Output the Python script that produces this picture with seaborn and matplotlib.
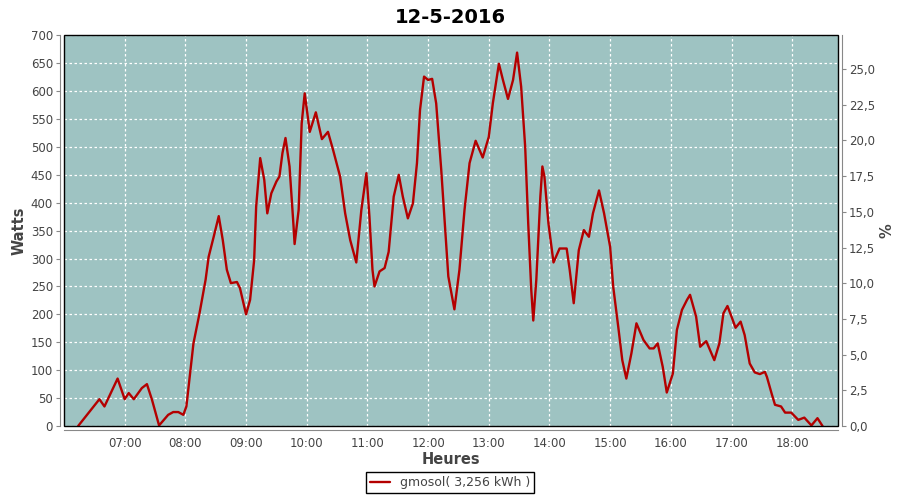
import numpy as np
import pandas as pd
import matplotlib
matplotlib.use("Agg")
import matplotlib.pyplot as plt
import seaborn as sns
from matplotlib.patches import Rectangle

# readings (time of day, watts)
times = ["06:14", "06:35", "06:40", "06:53", "07:00", "07:04", "07:09", "07:17", "07:22", "07:27",
         "07:34", "07:43", "07:48", "07:53", "07:58", "08:01", "08:08", "08:14", "08:20", "08:23",
         "08:28", "08:33", "08:37", "08:41", "08:45", "08:51", "08:54", "09:00", "09:04", "09:08",
         "09:10", "09:14", "09:18", "09:21", "09:25", "09:30", "09:33", "09:36", "09:39", "09:43",
         "09:47", "09:48", "09:52", "09:55", "09:58", "10:03", "10:09", "10:15", "10:21", "10:26",
         "10:33", "10:38", "10:43", "10:49", "10:54", "10:59", "11:02", "11:05", "11:07", "11:12",
         "11:17", "11:21", "11:26", "11:31", "11:35", "11:40", "11:45", "11:49", "11:52", "11:56",
         "12:00", "12:04", "12:08", "12:13", "12:17", "12:20", "12:26", "12:31", "12:36", "12:41",
         "12:47", "12:54", "13:00", "13:04", "13:10", "13:14", "13:19", "13:24", "13:28", "13:32",
         "13:36", "13:39", "13:42", "13:44", "13:47", "13:51", "13:53", "13:55", "13:59", "14:04",
         "14:10", "14:17", "14:20", "14:24", "14:29", "14:34", "14:39", "14:43", "14:49", "14:54",
         "15:00", "15:03", "15:08", "15:12", "15:16", "15:21", "15:26", "15:33", "15:39", "15:43",
         "15:47", "15:52", "15:56", "16:02", "16:06", "16:11", "16:16", "16:19", "16:25", "16:29",
         "16:35", "16:43", "16:48", "16:52", "16:56", "17:00", "17:04", "17:09", "17:13", "17:18",
         "17:23", "17:28", "17:33", "17:35", "17:40", "17:43", "17:49", "17:53", "17:59", "18:06",
         "18:12", "18:19", "18:25", "18:30"]
watts = [0, 48, 35, 85, 48, 59, 48, 68, 75, 47,
         1, 20, 25, 25, 20, 35, 148, 202, 262, 303,
         339, 376, 333, 280, 256, 258, 247, 200, 226, 297,
         393, 480, 441, 381, 417, 438, 447, 489, 516, 465,
         357, 326, 387, 542, 596, 527, 562, 514, 527, 495,
         447, 381, 333, 293, 387, 453, 375, 280, 250, 277,
         283, 312, 411, 450, 411, 372, 399, 471, 566, 626,
         620, 622, 578, 459, 351, 268, 209, 280, 387, 471,
         511, 481, 518, 578, 649, 620, 586, 620, 669, 608,
         500, 363, 244, 189, 262, 411, 465, 447, 363, 293,
         318, 318, 280, 220, 315, 351, 339, 381, 422, 381,
         321, 250, 178, 118, 85, 130, 184, 154, 139, 139,
         148, 106, 60, 94, 172, 208, 226, 235, 196, 142,
         152, 118, 148, 202, 215, 196, 176, 187, 163, 112,
         96, 93, 97, 88, 56, 38, 35, 24, 24, 11,
         15, 1, 14, 0]

hour_labels = ["07:00", "08:00", "09:00", "10:00", "11:00", "12:00",
               "13:00", "14:00", "15:00", "16:00", "17:00", "18:00"]
series_label = "gmosol( 3,256 kWh )"
title = "12-5-2016"


def to_hours(s):
    h, m = s.split(":")
    return int(h) + int(m) / 60.0


df = pd.DataFrame({"heure": [to_hours(t) for t in times], "watts": watts})

sns.set_style("white")
plt.rcParams['font.family'] = ['DejaVu Sans']

fig = plt.figure(figsize=(9, 5), dpi=100)
ax = fig.add_axes([64 / 900, 74 / 500, (837.7 - 64) / 900, (426 - 35.3) / 500])
ax.set_facecolor("#9ec3c2")

# grid
ax.set_xticks([to_hours(h) for h in hour_labels])
ax.set_xticklabels(hour_labels)
ax.set_yticks(np.arange(0, 701, 50))
ax.grid(True, color="white", linestyle=(0, (2, 2)), linewidth=0.9)
ax.set_axisbelow(True)

sns.lineplot(data=df, x="heure", y="watts", ax=ax, color="#b40000", linewidth=1.7,
             label=series_label, legend=False)

ax.set_xlim(6.0, 18.75)
ax.set_ylim(0, 700)

# black plot frame on top, grey axes set slightly outside
ax.add_patch(Rectangle((0, 0), 1, 1, transform=ax.transAxes, fill=False,
                       edgecolor="black", linewidth=1.0, zorder=5, clip_on=False))
for side in ["top", "right"]:
    ax.spines[side].set_visible(False)
for side in ["left", "bottom"]:
    ax.spines[side].set_position(("outward", 3))
    ax.spines[side].set_color("#888888")
ax.tick_params(axis="both", colors="#888888", labelcolor="#444444", labelsize=8.5,
               length=3, pad=2, direction="out")

ax.set_xlabel("Heures", fontsize=10.5, fontweight="bold", color="#444444", labelpad=1)
ax.set_ylabel("Watts", fontsize=10.5, fontweight="bold", color="#444444", labelpad=3)
ax.set_title(title, fontsize=14, fontweight="bold", color="black", pad=9)

# right axis in %
ax2 = ax.twinx()
ax2.set_ylim(0, 27.36)
pct = np.arange(0, 25.1, 2.5)
ax2.set_yticks(pct)
ax2.set_yticklabels([f"{p:.1f}".replace(".", ",") for p in pct])
for side in ["top", "left", "bottom"]:
    ax2.spines[side].set_visible(False)
ax2.spines["right"].set_position(("outward", 3))
ax2.spines["right"].set_color("#888888")
ax2.tick_params(axis="y", colors="#888888", labelcolor="#444444", labelsize=8.5,
                length=3, pad=2, direction="out")
ax2.set_ylabel("%", fontsize=10.5, fontweight="bold", color="#444444", labelpad=3)

handles, labels = ax.get_legend_handles_labels()
leg = fig.legend(handles, labels, loc="lower center", bbox_to_anchor=(0.5, 0.002),
                 fancybox=False, edgecolor="black", framealpha=1, fontsize=9,
                 handlelength=1.6, borderpad=0.3, labelcolor="#444444")
leg.get_frame().set_linewidth(1.0)

fig.savefig("out.png", dpi=100)
